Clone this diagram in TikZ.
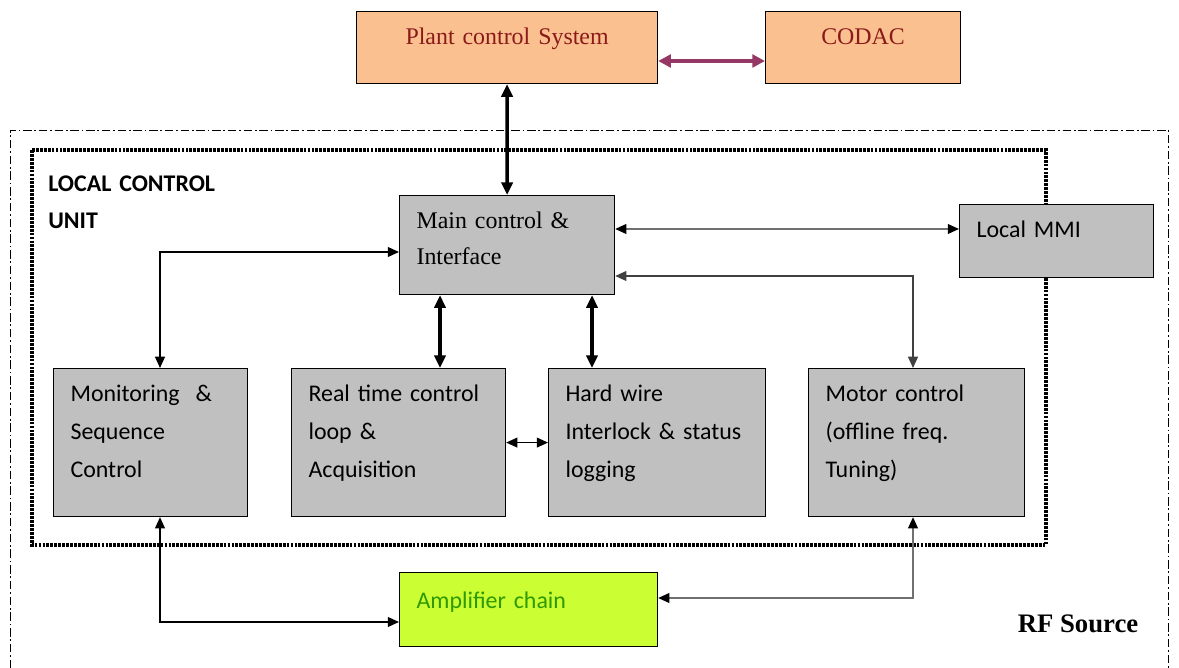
\documentclass[tikz,border=0pt]{standalone}
\usepackage{fontspec}
\setmainfont{Liberation Serif}
\newfontfamily\calibri{Carlito}
\usetikzlibrary{arrows.meta}

\definecolor{peach}{HTML}{FAC090}
\definecolor{darkred}{HTML}{8B1A1A}
\definecolor{plum}{HTML}{953865}
\definecolor{boxgray}{HTML}{C0C0C0}
\definecolor{lime}{HTML}{CCFF33}
\definecolor{ampgreen}{HTML}{2E9900}
\definecolor{wiregray}{HTML}{707070}

\begin{document}
\begin{tikzpicture}[
            x=0.025cm, y=-0.025cm,
            box/.style = {draw, line width=0.8pt, anchor=north west, inner xsep=0.425cm, inner ysep=0pt, text height=0.825cm, align=left},
            pcsbox/.style = {box, fill=peach, align=center, text=darkred, font=\fontsize{17}{20}\selectfont},
            lcubox/.style = {box, fill=boxgray, font=\calibri\fontsize{17}{27}\selectfont},
            ampbox/.style = {box, fill=lime, text=ampgreen, text height=0.9cm, font=\calibri\fontsize{17}{27}\selectfont},
            thk/.style = {{Triangle[length=9pt,width=8pt]}-{Triangle[length=9pt,width=8pt]}, line width=2.4pt},
            thn/.style = {{Triangle[length=8pt,width=7pt]}-{Triangle[length=8pt,width=7pt]}, line width=1.1pt},
            thngray/.style = {{Triangle[length=8pt,width=7pt,color=black]}-{Triangle[length=8pt,width=7pt,color=black]}, line width=1.1pt, draw=wiregray},
        ]
            \useasboundingbox (0,0) rectangle (1179,668);

            % RF source frame and local control unit frame
            \draw[line width=0.6pt, dash pattern=on 6pt off 2pt on 1.2pt off 2pt] (10,668) -- (10,130) -- (1168,130) -- (1168,668);
            \draw[line width=2.6pt, dash pattern=on 2pt off 0.8pt] (32,150) rectangle (1046,545);

            \node[anchor=base west, text width=5cm, align=left, inner sep=0pt, font=\calibri\bfseries\fontsize{17}{26.3}\selectfont] (lcu) at (48,192) {LOCAL CONTROL\\UNIT};
            \node[font=\bfseries\fontsize{19}{22}\selectfont] (rf) at (1078,624) {RF Source};

            % Top level
            \node[pcsbox, text width=6.675cm, text depth=0.975cm] (pcs) at (356,11) {Plant control System};
            \node[pcsbox, text width=4.025cm, text depth=0.975cm] (codac) at (765,11) {CODAC};

            % Local control unit
            \node[box, fill=boxgray, text width=4.525cm, text depth=1.65cm, font=\fontsize{17}{25.6}\selectfont] (main) at (399,195) {Main control \&\\Interface};
            \node[lcubox, text width=4cm, text depth=1cm] (mmi) at (959,204) {Local MMI};
            \node[lcubox, text width=4cm, text depth=2.875cm] (mon) at (53,368) {Monitoring~~\&\\Sequence\\Control};
            \node[lcubox, text width=4.5cm, text depth=2.875cm] (rt) at (291,368) {Real time control\\loop \&\\Acquisition};
            \node[lcubox, text width=4.575cm, text depth=2.875cm] (hw) at (548,368) {Hard wire\\Interlock \& status\\logging};
            \node[lcubox, text width=4.55cm, text depth=2.875cm] (motor) at (808,368) {Motor control\\(offline freq.\\Tuning)};

            % Amplifier
            \node[ampbox, text width=5.6cm, text depth=0.95cm] (amp) at (399,572) {Amplifier chain};

            % Links
            \draw[thk, draw=plum, {Triangle[length=9pt,width=9pt]}-{Triangle[length=9pt,width=9pt]}] (pcs.east |- 0,61) -- (codac.west |- 0,61);
            \draw[thk] (pcs.south) -- (main.north);
            \draw[thngray] (main.east |- 0,229) -- (mmi.west |- 0,229);
            \draw[thn, draw=black!75] (main.east |- 0,276) -| (motor.north -| 913,0);
            \draw[thn] (mon.north -| 160,0) |- (main.west |- 0,252);
            \draw[thk] (main.south -| 440,0) -- (rt.north -| 440,0);
            \draw[thk] (main.south -| 592,0) -- (hw.north -| 592,0);
            \draw[thn] (rt.east) -- (hw.west);
            \draw[thn] (mon.south -| 160,0) |- (amp.west |- 0,622);
            \draw[thngray] (motor.south -| 913,0) |- (amp.east |- 0,598);

        \end{tikzpicture}
\end{document}
